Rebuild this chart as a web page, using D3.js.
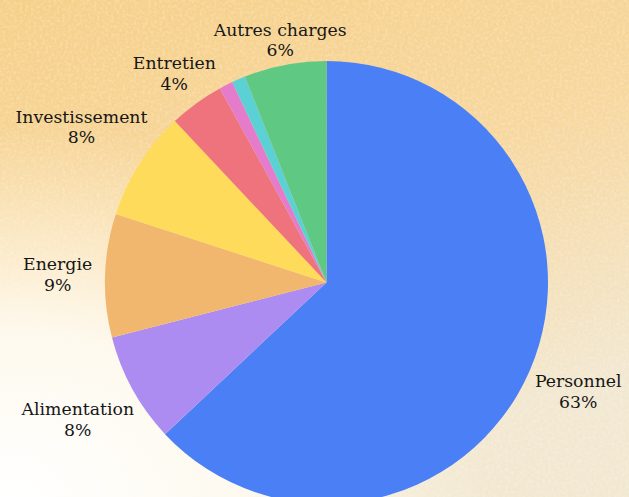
<!DOCTYPE html>
<html>
  <head>
    <meta charset="utf-8">
    <script src="https://d3js.org/d3.v7.min.js"></script>
    <style>
      body { margin: 0; }
    </style>
  </head>
  <body>
    <svg width="629" height="497" id="chart"></svg>
  </body>

  <script type="text/javascript">
    // pie data, clockwise from 12 o'clock
    var categories = ["Personnel", "Alimentation", "Energie", "Investissement", "Entretien", "Divers", "Frais", "Autres charges"];
    var values = [63, 8, 9, 8, 4, 1, 1, 6];
    var colors = ["#4b7ff5", "#ad8cf2", "#f2b76e", "#fedb5b", "#ee737d", "#e57ccb", "#5bd1d5", "#5fc883"];
    var labelMin = 2; // slices under this % get no label

    var width = 629, height = 497;
    var cx = 326.5, cy = 282.5, radius = 221.5;

    var svg = d3.select("#chart");
    var defs = svg.append("defs");

    // warm paper background
    var lg = defs.append("linearGradient").attr("id", "bg")
        .attr("x1", "0").attr("y1", "0").attr("x2", "0.4").attr("y2", "1");
    lg.append("stop").attr("offset", "0").attr("stop-color", "#f6d089");
    lg.append("stop").attr("offset", "0.5").attr("stop-color", "#f7d79e");
    lg.append("stop").attr("offset", "1").attr("stop-color", "#f2e8d2");

    var rg = defs.append("radialGradient").attr("id", "glow")
        .attr("cx", "0.02").attr("cy", "1").attr("r", "0.75");
    rg.append("stop").attr("offset", "0").attr("stop-color", "#ffffff").attr("stop-opacity", 1);
    rg.append("stop").attr("offset", "0.45").attr("stop-color", "#fffcf4").attr("stop-opacity", 0.9);
    rg.append("stop").attr("offset", "1").attr("stop-color", "#fff8e8").attr("stop-opacity", 0);

    var noise = defs.append("filter").attr("id", "grain");
    noise.append("feTurbulence").attr("type", "fractalNoise")
        .attr("baseFrequency", "0.35").attr("numOctaves", 2).attr("seed", 4);
    noise.append("feColorMatrix").attr("type", "matrix")
        .attr("values", "0 0 0 0 1  0 0 0 0 0.97  0 0 0 0 0.9  0 0 0 1.1 -0.45");

    svg.append("rect").attr("width", width).attr("height", height).attr("fill", "url(#bg)");
    svg.append("rect").attr("width", width).attr("height", height)
        .attr("filter", "url(#grain)").attr("opacity", 0.55);
    svg.append("rect").attr("width", width).attr("height", height).attr("fill", "url(#glow)");

    var data = categories.map(function(c, i) {
        return { name: c, value: values[i], color: colors[i] };
    });

    var pie = d3.pie().sort(null).value(function(d) { return d.value; });
    var arc = d3.arc().innerRadius(0).outerRadius(radius);
    var arcs = pie(data);

    var g = svg.append("g").attr("transform", "translate(" + cx + "," + cy + ")");

    g.selectAll("path.slice")
        .data(arcs)
        .enter().append("path")
        .attr("class", "slice")
        .attr("d", arc)
        .attr("fill", function(d) { return d.data.color; });

    var total = d3.sum(values);
    var fontFamily = "'DejaVu Serif', serif";
    var fontSize = 17.3;
    var lineH = 20.5;
    var gap = 13;

    var labels = g.selectAll("g.label")
        .data(arcs.filter(function(d) { return d.data.value / total * 100 >= labelMin; }))
        .enter().append("g")
        .attr("class", "label");

    labels.each(function(d) {
        var lab = d3.select(this);
        var t1 = lab.append("text")
            .attr("text-anchor", "middle")
            .attr("font-family", fontFamily)
            .attr("font-size", fontSize)
            .attr("fill", "#161616")
            .attr("y", -4)
            .text(d.data.name);
        lab.append("text")
            .attr("text-anchor", "middle")
            .attr("font-family", fontFamily)
            .attr("font-size", fontSize)
            .attr("fill", "#161616")
            .attr("y", lineH - 4)
            .text(Math.round(d.data.value / total * 100) + "%");

        var w = t1.node().getComputedTextLength() / 2;
        var mid = (d.startAngle + d.endAngle) / 2;
        var sx = Math.sin(mid), sy = -Math.cos(mid);
        var r = radius + gap + Math.abs(sx) * w;
        lab.attr("transform", "translate(" + (sx * r) + "," + (sy * r) + ")");
    });
  </script>
</html>
